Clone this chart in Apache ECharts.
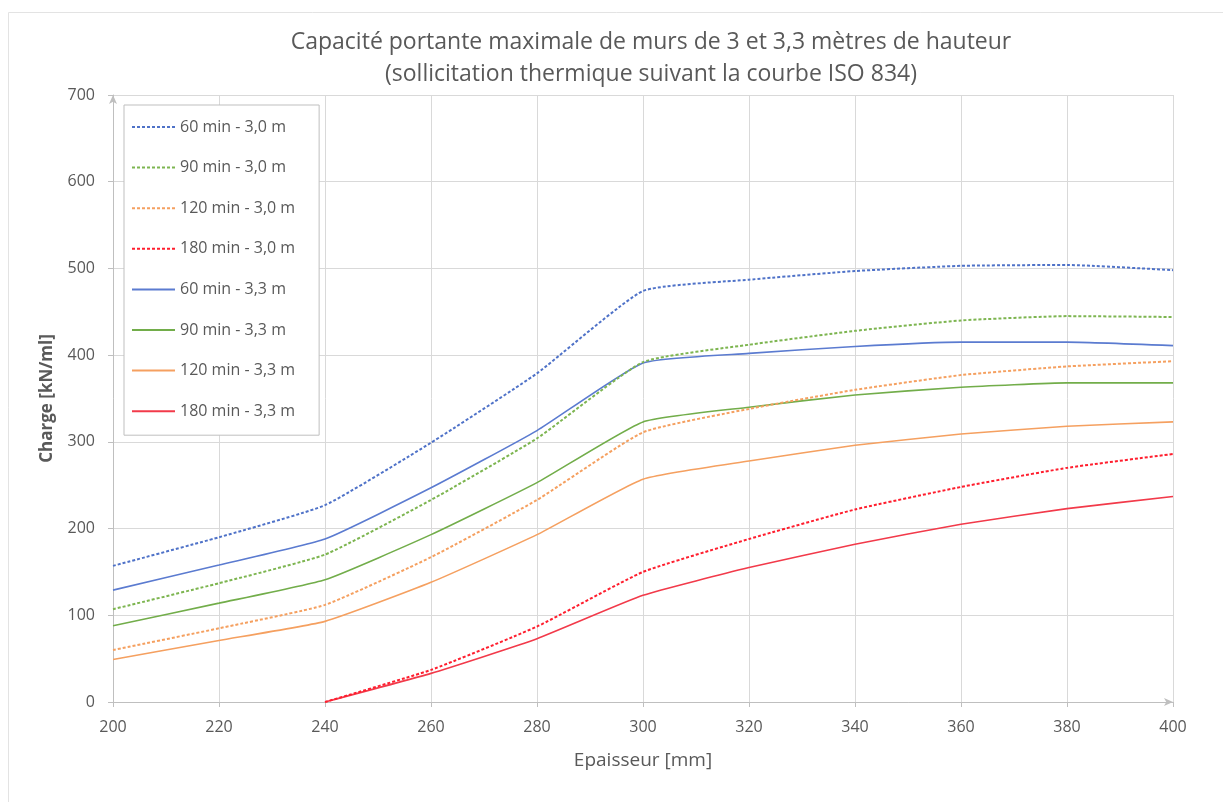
<!DOCTYPE html>
<html>
<head>
<meta charset="utf-8">
<script src="https://cdn.jsdelivr.net/npm/echarts@6/dist/echarts.min.js"></script>
<style>
html,body{margin:0;padding:0;background:#fff;}
#chart{width:1223px;height:802px;}
</style>
</head>
<body>
<div id="chart"></div>
<script>
const titleText = 'Capacité portante maximale de murs de 3 et 3,3 mètres de hauteur\n(sollicitation thermique suivant la courbe ISO 834)';
const xName = 'Epaisseur [mm]';
const yName = 'Charge [kN/ml]';
const thickness = [200, 220, 240, 260, 280, 300, 320, 340, 360, 380, 400];

const s60_30  = [157, 190, 227, 299, 379, 474, 487, 497, 503, 504, 498];
const s90_30  = [107, 137, 170, 233, 304, 392, 412, 428, 440, 445, 444];
const s120_30 = [60, 85, 112, 167, 233, 311, 338, 360, 377, 387, 393];
const s180_30 = [null, null, 0, 37, 87, 150, 188, 222, 248, 270, 286];
const s60_33  = [129, 158, 188, 247, 313, 391, 402, 410, 415, 415, 411];
const s90_33  = [88, 114, 141, 193, 253, 323, 340, 354, 363, 368, 368];
const s120_33 = [49, 71, 93, 138, 193, 257, 278, 296, 309, 318, 323];
const s180_33 = [null, null, 0, 33, 73, 123, 155, 182, 205, 223, 237];

const seriesNames = ['60 min - 3,0 m','90 min - 3,0 m','120 min - 3,0 m','180 min - 3,0 m',
                     '60 min - 3,3 m','90 min - 3,3 m','120 min - 3,3 m','180 min - 3,3 m'];
const seriesValues = [s60_30, s90_30, s120_30, s180_30, s60_33, s90_33, s120_33, s180_33];
const colors = ['#4F72C8','#7DB550','#F5A060','#FF1E2E','#5B7BD0','#72AD4A','#F5A060','#F23A4A'];
const dashed = [true,true,true,true,false,false,false,false];

const FONT = '"Open Sans", "DejaVu Sans", sans-serif';

function pairs(vals){
  const out = [];
  thickness.forEach((t,i)=>{ if(vals[i] !== null) out.push([t, vals[i]]); });
  return out;
}

const series = seriesNames.map((n,i)=>({
  name: n,
  type: 'line',
  symbol: 'none',
  smooth: 0.15,
  data: pairs(seriesValues[i]),
  lineStyle: { color: colors[i], width: dashed[i] ? 2 : 1.6, type: dashed[i] ? [3,2] : 'solid' },
  itemStyle: { color: colors[i] },
  z: dashed[i] ? 3 : 2
}));

const chart = echarts.init(document.getElementById('chart'), null, {renderer:'canvas'});
chart.setOption({
  backgroundColor: '#ffffff',
  animation: false,
  graphic: [{
    type: 'rect',
    shape: { x: 8.5, y: 12.5, width: 1400, height: 1000 },
    style: { fill: 'none', stroke: '#E3E3E3', lineWidth: 1 },
    silent: true, z: -10
  }],
  title: {
    text: titleText,
    left: 646,
    top: 21,
    textAlign: 'center',
    textStyle: { fontFamily: FONT, fontSize: 23, fontWeight: 'normal', color: '#595959', lineHeight: 32 }
  },
  grid: { left: 113, right: 50, top: 95, bottom: 100, containLabel: false },
  legend: {
    orient: 'vertical',
    left: 124,
    top: 105,
    padding: [14, 24, 16, 7],
    itemWidth: 43,
    itemHeight: 14,
    itemGap: 24.6,
    borderColor: '#BFBFBF',
    borderWidth: 1,
    backgroundColor: '#ffffff',
    itemStyle: { opacity: 0 },
    textStyle: { fontFamily: FONT, fontSize: 16, color: '#595959' },
    data: seriesNames
  },
  xAxis: {
    type: 'value',
    min: 200, max: 400, interval: 20,
    name: xName,
    nameLocation: 'middle',
    nameGap: 49,
    nameTextStyle: { fontFamily: FONT, fontSize: 19, color: '#595959' },
    axisLine: { show: true, lineStyle: { color: '#BFBFBF', width: 1 }, symbol: ['none','arrow'], symbolSize: [6,9] },
    axisTick: { show: true, length: 5, lineStyle: { color: '#BFBFBF' } },
    axisLabel: { fontFamily: FONT, fontSize: 16, color: '#595959', margin: 17 },
    splitLine: { show: true, lineStyle: { color: '#D9D9D9', width: 1 } }
  },
  yAxis: {
    type: 'value',
    min: 0, max: 700, interval: 100,
    name: yName,
    nameLocation: 'middle',
    nameGap: 57,
    nameTextStyle: { fontFamily: FONT, fontSize: 17, fontWeight: 'bold', color: '#595959' },
    axisLine: { show: true, lineStyle: { color: '#BFBFBF', width: 1 }, symbol: ['none','arrow'], symbolSize: [6,9] },
    axisTick: { show: true, length: 5, inside: false, lineStyle: { color: '#BFBFBF' } },
    axisLabel: { fontFamily: FONT, fontSize: 16, color: '#595959', margin: 18 },
    splitLine: { show: true, lineStyle: { color: '#D9D9D9', width: 1 } }
  },
  series: series
});
</script>
</body>
</html>
